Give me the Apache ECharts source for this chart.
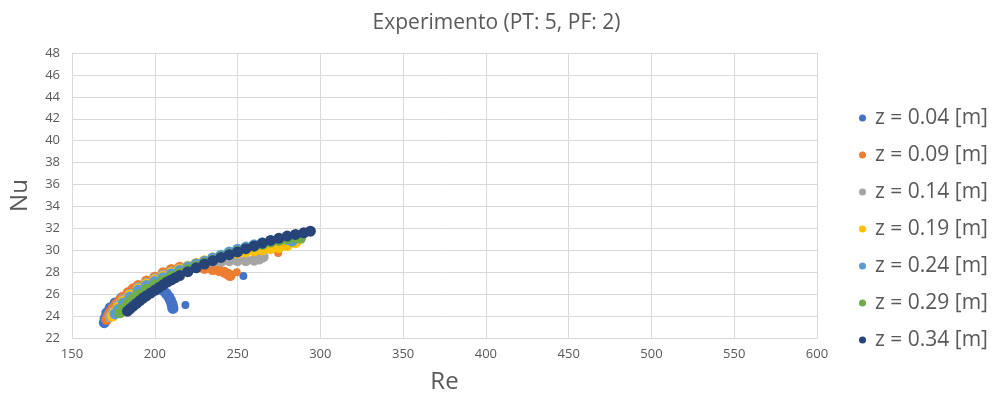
<!DOCTYPE html>
<html>
<head>
<meta charset="utf-8">
<script src="https://cdn.jsdelivr.net/npm/echarts@6/dist/echarts.min.js"></script>
<style>
  html, body { margin: 0; padding: 0; background: #fff; }
  #chart { width: 993px; height: 399px; }
</style>
</head>
<body>
<div id="chart"></div>
<script>
// series names (legend)
var seriesNames = ['z = 0.04 [m]', 'z = 0.09 [m]', 'z = 0.14 [m]', 'z = 0.19 [m]', 'z = 0.24 [m]', 'z = 0.29 [m]', 'z = 0.34 [m]'];
var seriesColors = ['#4472C4', '#ED7D31', '#A5A5A5', '#FFC000', '#5B9BD5', '#70AD47', '#264478'];

// [Re, Nu], dense part of each run
var z004 = [[169.5, 23.4], [170, 23.8], [171, 24.3], [173, 24.75], [176, 25.2], [180, 25.65], [185, 26.1], [190, 26.5], [195, 26.8], [199, 27.0],
  [201, 26.9], [203, 26.65], [205, 26.35], [207, 26.05], [208.5, 25.75], [209.5, 25.45], [210.3, 25.15], [210.8, 24.85], [211, 24.7]];
var z009 = [[171, 23.7], [172, 24.0], [173, 24.3], [175, 24.75], [177, 25.1], [179, 25.45], [181, 25.75], [184, 26.15], [187, 26.5], [190, 26.8],
  [195, 27.2], [200, 27.55], [205, 27.95], [210, 28.25], [215, 28.45], [220, 28.5], [225, 28.45], [230, 28.35], [235, 28.25], [239, 28.15],
  [242, 28.0], [244, 27.85], [245.5, 27.7]];
var z014 = [[173, 23.95], [175, 24.4], [178, 25.0], [181, 25.5], [185, 26.0], [190, 26.6], [195, 27.0], [200, 27.4], [205, 27.75], [210, 28.05],
  [215, 28.3], [220, 28.55], [225, 28.75], [230, 28.9], [235, 29.0], [240, 29.0], [245, 29.05], [250, 29.05], [255, 29.05], [260, 29.1],
  [263, 29.2], [265.5, 29.4]];
var z019 = [[174.5, 24.0], [176, 24.35], [178, 24.8], [181, 25.35], [185, 25.9], [190, 26.45], [195, 26.9], [200, 27.25], [205, 27.6], [210, 27.95],
  [215, 28.25], [220, 28.5], [225, 28.8], [230, 29.05], [235, 29.3], [240, 29.5], [245, 29.65], [250, 29.75], [255, 29.85], [260, 29.95],
  [265, 30.05], [270, 30.15], [275, 30.25], [280, 30.45], [285, 30.7]];
var z024 = [[176, 24.2], [178, 24.6], [181, 25.2], [185, 25.75], [190, 26.35], [195, 26.8], [200, 27.15], [205, 27.5], [210, 27.85], [215, 28.15],
  [220, 28.45], [225, 28.75], [230, 29.0], [235, 29.3], [240, 29.55], [245, 29.85], [250, 30.1], [255, 30.3], [260, 30.5], [265, 30.7],
  [270, 30.85], [275, 30.95], [280, 31.0], [283, 30.85]];
var z029 = [[179, 24.3], [181, 24.7], [184, 25.2], [187, 25.6], [190, 25.95], [195, 26.45], [200, 26.85], [205, 27.25], [210, 27.6], [215, 27.9],
  [220, 28.25], [225, 28.55], [230, 28.85], [235, 29.1], [240, 29.4], [245, 29.65], [250, 29.9], [255, 30.15], [260, 30.35], [265, 30.55],
  [270, 30.75], [275, 30.9], [280, 31.05], [285, 31.15], [288, 31.1]];
var z034 = [[183.5, 24.45], [185, 24.65], [187, 24.9], [189, 25.15], [191, 25.4], [193, 25.65], [195, 25.85], [197.5, 26.1], [200, 26.35], [202.5, 26.6],
  [205, 26.85], [207.5, 27.1], [210, 27.3], [212.5, 27.5], [215, 27.7], [220, 28.05], [225, 28.4], [230, 28.75], [235, 29.05], [240, 29.35],
  [245, 29.6], [250, 29.85], [255, 30.15], [260, 30.4], [265, 30.65], [270, 30.9], [275, 31.1], [280, 31.3], [285, 31.45], [290, 31.6], [294, 31.75]];

// loose single points away from the bands
var z004Loose = [[218.5, 25.0], [253.5, 27.65]];
var z009Loose = [[249.5, 28.0], [274.5, 29.75]];

var allData = [z004, z009, z014, z019, z024, z029, z034];
var looseData = [z004Loose, z009Loose];

// axis ranges
var xMin = 150, xMax = 600, xStep = 50;
var yMin = 22, yMax = 48, yStep = 2;

var chart = echarts.init(document.getElementById('chart'));

var series = [];
for (var i = 0; i < allData.length; i++) {
  series.push({
    name: seriesNames[i],
    type: 'scatter',
    data: allData[i],
    symbol: 'circle',
    symbolSize: 11,
    itemStyle: { color: seriesColors[i], opacity: 1 },
    z: 2 + i
  });
}
for (var j = 0; j < looseData.length; j++) {
  series.push({
    name: seriesNames[j],
    type: 'scatter',
    data: looseData[j],
    symbol: 'circle',
    symbolSize: 8,
    itemStyle: { color: seriesColors[j], opacity: 1 },
    z: 2 + j
  });
}

chart.setOption({
  animation: false,
  textStyle: { fontFamily: 'Open Sans' },
  color: seriesColors,
  title: {
    text: 'Experimento (PT: 5, PF: 2)',
    left: 'center',
    top: 8,
    textStyle: { color: '#595959', fontSize: 21, fontWeight: 'normal', fontFamily: 'Open Sans' }
  },
  legend: {
    orient: 'vertical',
    left: 854,
    top: 102,
    icon: 'circle',
    itemWidth: 7,
    itemHeight: 7,
    itemGap: 15,
    data: seriesNames,
    itemStyle: { opacity: 1 },
    textStyle: { color: '#595959', fontSize: 21, lineHeight: 22, fontFamily: 'Open Sans', padding: [0, 0, 0, 4] }
  },
  grid: { left: 67, right: 176, top: 53, bottom: 60 },
  xAxis: {
    type: 'value',
    min: xMin, max: xMax, interval: xStep,
    name: 'Re',
    nameLocation: 'middle',
    nameGap: 32,
    nameTextStyle: { color: '#595959', fontSize: 24 },
    axisLine: { show: true, lineStyle: { color: '#d9d9d9' } },
    axisTick: { show: false },
    axisLabel: { color: '#595959', fontSize: 13, margin: 10 },
    splitLine: { show: true, lineStyle: { color: '#d9d9d9' } }
  },
  yAxis: {
    type: 'value',
    min: yMin, max: yMax, interval: yStep,
    name: 'Nu',
    nameLocation: 'middle',
    nameGap: 40,
    nameTextStyle: { color: '#595959', fontSize: 24 },
    axisLine: { show: true, lineStyle: { color: '#d9d9d9' } },
    axisTick: { show: false },
    axisLabel: { color: '#595959', fontSize: 13, margin: 12 },
    splitLine: { show: true, lineStyle: { color: '#d9d9d9' } }
  },
  series: series
});
</script>
</body>
</html>
